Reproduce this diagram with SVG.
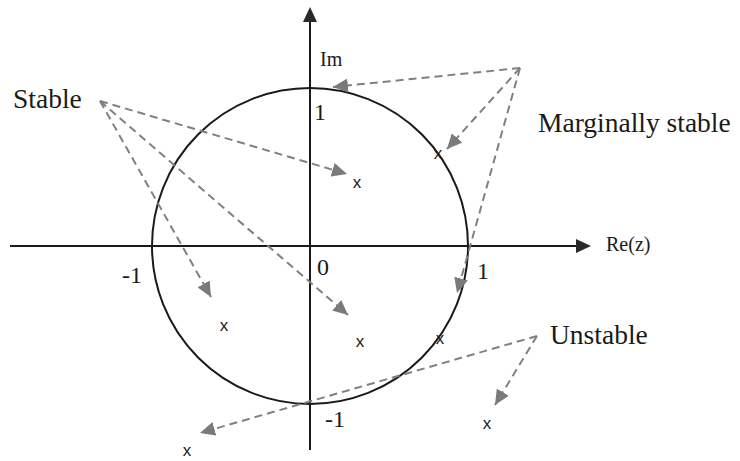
<svg xmlns="http://www.w3.org/2000/svg" width="740" height="461" viewBox="0 0 740 461">
<defs>
<marker id="ah" markerUnits="userSpaceOnUse" markerWidth="16" markerHeight="14" refX="15" refY="7" orient="auto">
<path d="M0,0 L15,7 L0,14 z" fill="#7a7a7a"/>
</marker>
</defs>
<style>
.ax{stroke:#1a1a1a;stroke-width:2;fill:none}
.dash{stroke:#808080;stroke-width:2;stroke-dasharray:8 5;fill:none;marker-end:url(#ah)}
.lbl{font-family:"Liberation Serif",serif;fill:#1a1a1a}
.big{font-size:27.5px}
.num{font-size:24px}
.mk{font-family:"Liberation Sans",sans-serif;font-size:17px;fill:#222;text-anchor:middle}
</style>
<rect width="740" height="461" fill="#fff"/>
<g id="axes">
<line class="ax" x1="10" y1="246" x2="578" y2="246"/>
<path d="M576,239 L591,246 L576,253 z" fill="#2a2a2a"/>
<line class="ax" x1="310" y1="450" x2="310" y2="20"/>
<path d="M303,22 L310,7 L317,22 z" fill="#2a2a2a"/>
</g>
<g id="unit-circle">
<circle cx="310" cy="246" r="158" class="ax"/>
</g>
<g id="connectors">
<line class="dash" x1="100" y1="101" x2="347" y2="174"/>
<line class="dash" x1="100" y1="101" x2="211" y2="297"/>
<line class="dash" x1="100" y1="101" x2="348" y2="315"/>
<line class="dash" x1="520" y1="68" x2="333" y2="87"/>
<line class="dash" x1="520" y1="68" x2="447" y2="149"/>
<line class="dash" x1="520" y1="68" x2="457" y2="293"/>
<line class="dash" x1="537" y1="336" x2="200" y2="433"/>
<line class="dash" x1="537" y1="336" x2="495" y2="405"/>
</g>
<g id="labels">
<text class="lbl big" x="13" y="108">Stable</text>
<text class="lbl big" x="538" y="132">Marginally stable</text>
<text class="lbl big" x="550" y="344">Unstable</text>
<text class="lbl" font-size="20" x="320" y="66">Im</text>
<text class="lbl" font-size="20" x="606" y="251">Re(z)</text>
<text class="lbl num" x="314" y="120">1</text>
<text class="lbl num" x="477" y="279">1</text>
<text class="lbl num" x="122" y="283">-1</text>
<text class="lbl num" x="317" y="275">0</text>
<text class="lbl num" x="325" y="427">-1</text>
</g>
<g id="poles">
<text class="mk" x="357" y="188">x</text>
<text class="mk" x="224" y="331">x</text>
<text class="mk" x="360" y="347">x</text>
<text class="mk" x="187" y="456">x</text>
<text class="mk" x="487" y="429">x</text>
<text class="mk" x="438" y="159">x</text>
<text class="mk" x="440" y="344">x</text>
</g>
</svg>
